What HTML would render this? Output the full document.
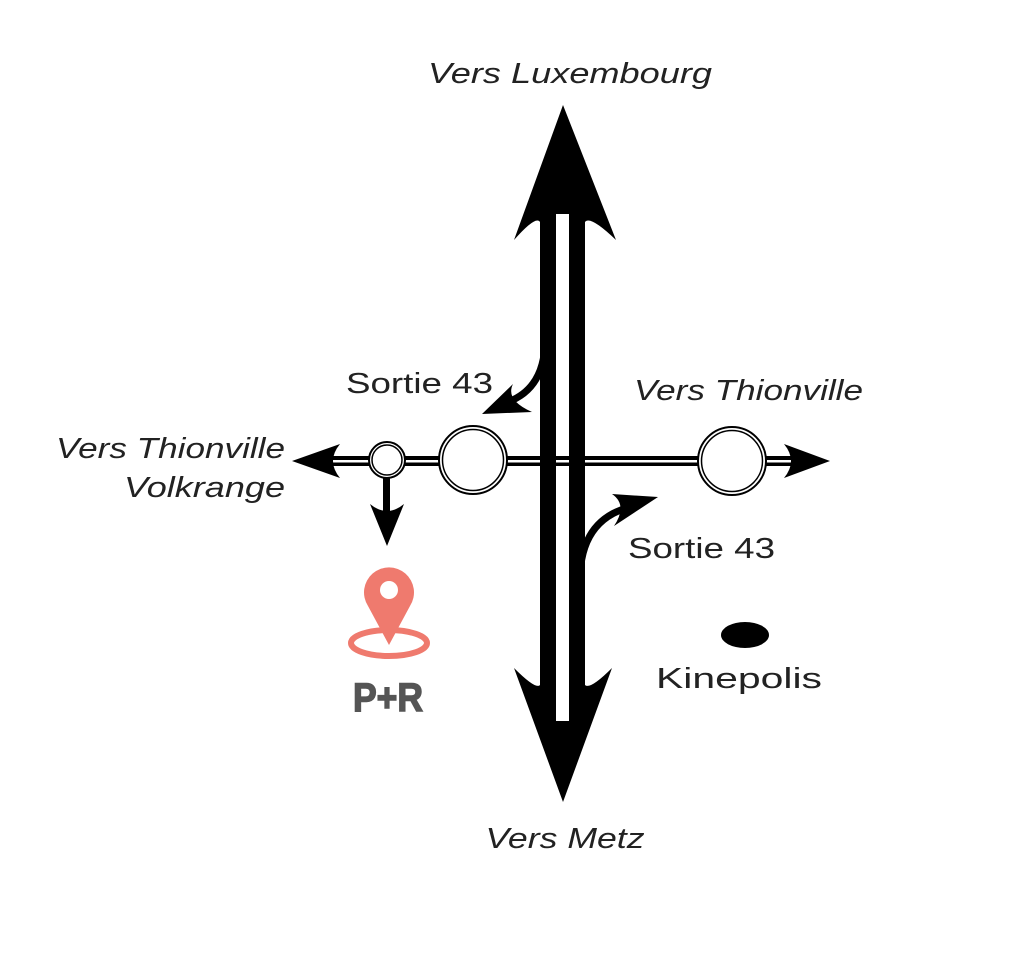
<!DOCTYPE html>
<html><head><style>
body{margin:0;background:#fff;}
svg{display:block}
.l{font-family:"Liberation Sans",sans-serif;font-style:italic;font-size:29px;fill:#222;}
.n{font-family:"Liberation Sans",sans-serif;font-size:29px;fill:#222;}
</style></head><body>
<svg width="1010" height="960" viewBox="0 0 1010 960" xmlns="http://www.w3.org/2000/svg">
<rect width="1010" height="960" fill="#fff"/>
<!-- horizontal road -->
<rect x="310" y="456" width="500" height="10" fill="#000"/>
<rect x="310" y="460" width="500" height="2.5" fill="#fff"/>
<path d="M292 461 L340 444 Q326 461 340 478 Z" fill="#000"/>
<path d="M830 461 L784 444 Q798 461 784 478 Z" fill="#000"/>
<!-- roundabouts -->
<circle cx="387" cy="460" r="18" fill="#fff" stroke="#000" stroke-width="2"/>
<circle cx="387" cy="460" r="15" fill="#fff" stroke="#000" stroke-width="1.5"/>
<circle cx="473" cy="460" r="34" fill="#fff" stroke="#000" stroke-width="2"/>
<circle cx="473" cy="460" r="30.5" fill="#fff" stroke="#000" stroke-width="1.5"/>
<circle cx="732" cy="461" r="34" fill="#fff" stroke="#000" stroke-width="2"/>
<circle cx="732" cy="461" r="30.5" fill="#fff" stroke="#000" stroke-width="1.5"/>
<!-- down arrow -->
<rect x="383" y="478" width="7" height="44" fill="#000"/>
<path d="M387 546 L370 504 Q387 518 404 504 Z" fill="#000"/>
<!-- highway bars -->
<rect x="540" y="205" width="16" height="515" fill="#000"/>
<rect x="569" y="205" width="16" height="515" fill="#000"/>
<path d="M563 105 L616 240 Q590 215 585 222 L540 222 Q536 215 514 240 Z" fill="#000"/>
<path d="M563 802 L612 668 Q590 690 585 685 L540 685 Q536 690 514 668 Z" fill="#000"/>
<rect x="556" y="214" width="13" height="507" fill="#fff"/>
<rect x="556" y="456" width="13" height="10" fill="#000"/>
<rect x="556" y="460" width="13" height="2.5" fill="#fff"/>
<!-- exit curves -->
<path d="M545 340 Q545 390 505 403" fill="none" stroke="#000" stroke-width="7"/>
<path d="M482 414 L513 384 Q505 400 532 412 Z" fill="#000"/>
<path d="M580 580 Q580 520 630 507" fill="none" stroke="#000" stroke-width="7"/>
<path d="M658 497 L612 494 Q628 505 614 526 Z" fill="#000"/>
<!-- pin -->
<ellipse cx="389" cy="643" rx="38" ry="13" fill="none" stroke="#ef7a6e" stroke-width="6"/>
<path d="M389 645 L368 606 A25 25 0 1 1 410 606 Z" fill="#ef7a6e"/>
<circle cx="389" cy="590" r="9" fill="#fff"/>
<text x="388" y="711" text-anchor="middle" font-family="Liberation Sans Narrow,Liberation Sans,sans-serif" font-weight="bold" font-size="40" fill="#555" stroke="#555" stroke-width="1.5" textLength="70" lengthAdjust="spacingAndGlyphs">P+R</text>
<!-- kinepolis -->
<ellipse cx="745" cy="635" rx="24" ry="13" fill="#000"/>
<!-- labels -->
<text class="l" x="570" y="83" text-anchor="middle" textLength="284" lengthAdjust="spacingAndGlyphs">Vers Luxembourg</text>
<text class="n" x="346" y="393" textLength="147" lengthAdjust="spacingAndGlyphs">Sortie 43</text>
<text class="l" x="634" y="400" textLength="229" lengthAdjust="spacingAndGlyphs">Vers Thionville</text>
<text class="l" x="285" y="458" text-anchor="end" textLength="229" lengthAdjust="spacingAndGlyphs">Vers Thionville</text>
<text class="l" x="285" y="497" text-anchor="end" textLength="161" lengthAdjust="spacingAndGlyphs">Volkrange</text>
<text class="n" x="628" y="558" textLength="147" lengthAdjust="spacingAndGlyphs">Sortie 43</text>
<text class="n" x="656" y="688" font-size="32" textLength="166" lengthAdjust="spacingAndGlyphs">Kinepolis</text>
<text class="l" x="565" y="848" text-anchor="middle" textLength="159" lengthAdjust="spacingAndGlyphs">Vers Metz</text>
</svg>
</body></html>
